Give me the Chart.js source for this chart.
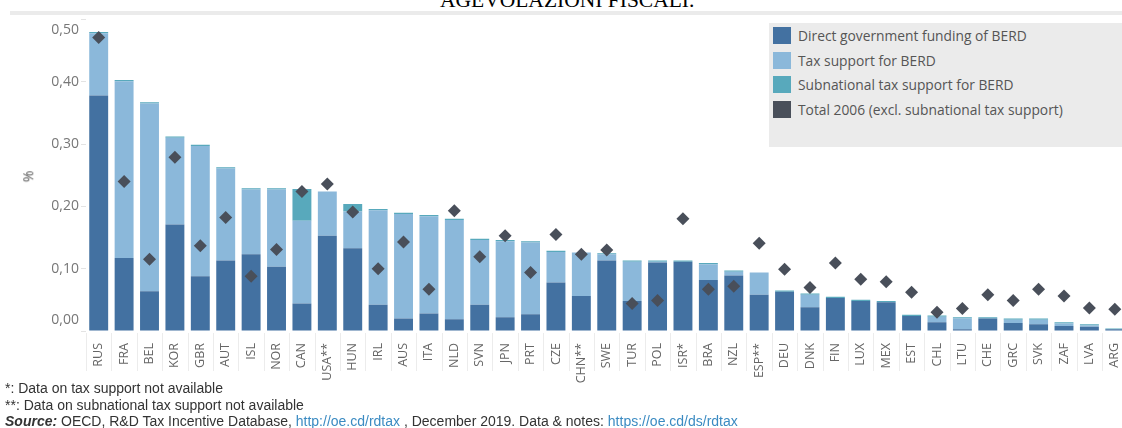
<!DOCTYPE html>
<html>
<head>
<meta charset="utf-8">
<script src="https://cdn.jsdelivr.net/npm/chart.js@4/dist/chart.umd.min.js"></script>
<style>
  html, body { margin: 0; padding: 0; background: #fff; overflow: hidden; width: 1122px; height: 428px; }
  #title { position: absolute; left: 440px; top: -10px; font: 21.5px "Liberation Serif", serif; line-height: 21.5px; color: #000; white-space: nowrap; }
  #band { position: absolute; left: 10px; top: 11px; width: 1112px; height: 4px; background: #ebebeb; }
  #wrap { position: absolute; left: 0; top: 0; width: 1134px; height: 395px; }
  #ytitle { position: absolute; left: 22px; top: 167px; font: 14px "Open Sans", sans-serif; color: #555; transform: rotate(-90deg); transform-origin: center; }
  #legend { position: absolute; left: 769px; top: 23px; width: 360px; height: 124px; background: #ebebeb; }
  .row { position: absolute; left: 4px; height: 17px; font: 13.8px "Open Sans", sans-serif; color: #555; line-height: 17px; white-space: nowrap; }
  .sw { display: inline-block; width: 18px; height: 17px; vertical-align: top; margin-right: 7px; }
  #notes { position: absolute; left: 5px; top: 380px; font: 14px "Liberation Sans", Arial, sans-serif; color: #333; line-height: 16.5px; white-space: nowrap; }
  #notes a { color: #3b8bc2; text-decoration: none; }
</style>
</head>
<body>
<div id="title">AGEVOLAZIONI FISCALI.</div>
<div id="band"></div>
<div id="wrap"><canvas id="myChart"></canvas></div>
<div id="ytitle">%</div>
<div id="legend"></div>
<div id="notes">
  <div>*: Data on tax support not available</div>
  <div>**: Data on subnational tax support not available</div>
  <div><b><i>Source:</i></b> OECD, R&amp;D Tax Incentive Database, <a>http://oe.cd/rdtax</a> , December 2019. Data &amp; notes: <a>https://oe.cd/ds/rdtax</a></div>
</div>
<script>
const countries = ["RUS", "FRA", "BEL", "KOR", "GBR", "AUT", "ISL", "NOR", "CAN", "USA**",
  "HUN", "IRL", "AUS", "ITA", "NLD", "SVN", "JPN", "PRT", "CZE", "CHN**",
  "SWE", "TUR", "POL", "ISR*", "BRA", "NZL", "ESP**", "DEU", "DNK", "FIN",
  "LUX", "MEX", "EST", "CHL", "LTU", "CHE", "GRC", "SVK", "ZAF", "LVA", "ARG"];

const directFunding = [0.378, 0.117, 0.064, 0.171, 0.088, 0.113, 0.123, 0.103, 0.044, 0.153,
  0.133, 0.042, 0.020, 0.028, 0.019, 0.042, 0.022, 0.027, 0.078, 0.056,
  0.113, 0.048, 0.110, 0.111, 0.082, 0.089, 0.058, 0.063, 0.038, 0.053,
  0.048, 0.046, 0.024, 0.014, 0.003, 0.020, 0.013, 0.011, 0.008, 0.007, 0.003];

const taxSupport = [0.100, 0.284, 0.301, 0.139, 0.209, 0.148, 0.104, 0.124, 0.133, 0.071,
  0.059, 0.152, 0.168, 0.156, 0.159, 0.104, 0.122, 0.115, 0.049, 0.070,
  0.010, 0.063, 0.001, 0.000, 0.025, 0.006, 0.036, 0.000, 0.020, 0.000,
  0.000, 0.000, 0.000, 0.009, 0.017, 0.000, 0.005, 0.007, 0.004, 0.002, 0.000];

const subnationalTax = [0.002, 0.002, 0.002, 0.002, 0.002, 0.002, 0.002, 0.002, 0.051, 0.000,
  0.012, 0.002, 0.002, 0.002, 0.002, 0.002, 0.002, 0.002, 0.002, 0.000,
  0.002, 0.002, 0.002, 0.002, 0.002, 0.002, 0.000, 0.002, 0.002, 0.002,
  0.002, 0.002, 0.002, 0.002, 0.002, 0.002, 0.002, 0.002, 0.002, 0.002, 0.001];

const total2006 = [0.471, 0.240, 0.115, 0.279, 0.137, 0.182, 0.088, 0.131, 0.224, 0.236,
  0.191, 0.100, 0.143, 0.067, 0.193, 0.119, 0.153, 0.094, 0.155, 0.123,
  0.130, 0.044, 0.049, 0.180, 0.067, 0.072, 0.141, 0.099, 0.070, 0.109,
  0.083, 0.079, 0.062, 0.030, 0.036, 0.058, 0.049, 0.067, 0.056, 0.037, 0.035];

const yTickLabels = ["0,00", "0,10", "0,20", "0,30", "0,40", "0,50"];

const seriesNames = ["Direct government funding of BERD", "Tax support for BERD",
  "Subnational tax support for BERD", "Total 2006 (excl. subnational tax support)"];
const seriesColors = ["#4371a1", "#8bb8da", "#58a9bc", "#494f5a"];

// legend box
const legend = document.getElementById("legend");
seriesNames.forEach((name, i) => {
  const row = document.createElement("div");
  row.className = "row";
  row.style.top = (4 + i * 24.6) + "px";
  row.innerHTML = '<span class="sw" style="background:' + seriesColors[i] + '"></span>' + name;
  legend.appendChild(row);
});

// y labels drawn by hand so the end labels sit inside the axis like the original
const axisExtras = {
  id: "axisExtras",
  afterDraw(chart) {
    const ctx = chart.ctx;
    const y = chart.scales.y;
    const x = chart.scales.x;
    ctx.save();
    ctx.font = "14px 'Open Sans', sans-serif";
    ctx.fillStyle = "#777";
    ctx.textAlign = "right";
    ctx.textBaseline = "middle";
    y.ticks.forEach((t, i) => {
      let py = y.getPixelForValue(t.value);
      if (i === 0) py -= 11;
      if (i === y.ticks.length - 1) py += 10.5;
      ctx.fillText(yTickLabels[i], 79, py);
    });
    // faint separators between category labels
    ctx.strokeStyle = "#ececec";
    ctx.lineWidth = 1;
    const band = x.getPixelForValue(1) - x.getPixelForValue(0);
    for (let i = 0; i <= countries.length; i++) {
      const px = Math.round(x.getPixelForValue(i) - band / 2) + 0.5;
      ctx.beginPath();
      ctx.moveTo(px, chart.chartArea.bottom + 2);
      ctx.lineTo(px, chart.chartArea.bottom + 40);
      ctx.stroke();
    }
    ctx.restore();
  }
};

const config = {
  type: "bar",
  data: {
    labels: countries,
    datasets: [
      {
        type: "line",
        label: seriesNames[3],
        data: total2006,
        showLine: false,
        pointStyle: "rectRot",
        pointRadius: 6.5,
        pointHoverRadius: 6.5,
        pointBackgroundColor: seriesColors[3],
        pointBorderColor: seriesColors[3],
        pointBorderWidth: 0,
        order: 0
      },
      { label: seriesNames[0], data: directFunding, backgroundColor: seriesColors[0], order: 1 },
      { label: seriesNames[1], data: taxSupport, backgroundColor: seriesColors[1], order: 1 },
      { label: seriesNames[2], data: subnationalTax, backgroundColor: seriesColors[2], order: 1 }
    ]
  },
  options: {
    responsive: true,
    maintainAspectRatio: false,
    animation: false,
    layout: { padding: { top: 19.5, left: 0, right: 0, bottom: 0 } },
    datasets: { bar: { categoryPercentage: 1, barPercentage: 0.745 } },
    plugins: { legend: { display: false }, tooltip: { enabled: false } },
    scales: {
      x: {
        stacked: true,
        grid: { display: false },
        border: { display: false },
        ticks: {
          autoSkip: false,
          maxRotation: 90,
          minRotation: 90,
          padding: 4,
          color: "#666",
          font: { family: "'Open Sans', sans-serif", size: 12.5 }
        },
        afterFit(scale) { scale.height = 64; }
      },
      y: {
        stacked: true,
        min: 0,
        max: 0.5,
        grid: { drawOnChartArea: false, drawTicks: true, tickLength: 5, color: "#e3e3e3" },
        border: { display: false },
        ticks: {
          stepSize: 0.1,
          color: "rgba(0,0,0,0)",
          callback: (v, i) => yTickLabels[i]
        },
        afterFit(scale) { scale.width = 86; }
      }
    }
  },
  plugins: [axisExtras]
};

new Chart(document.getElementById("myChart"), config);
</script>
</body>
</html>
